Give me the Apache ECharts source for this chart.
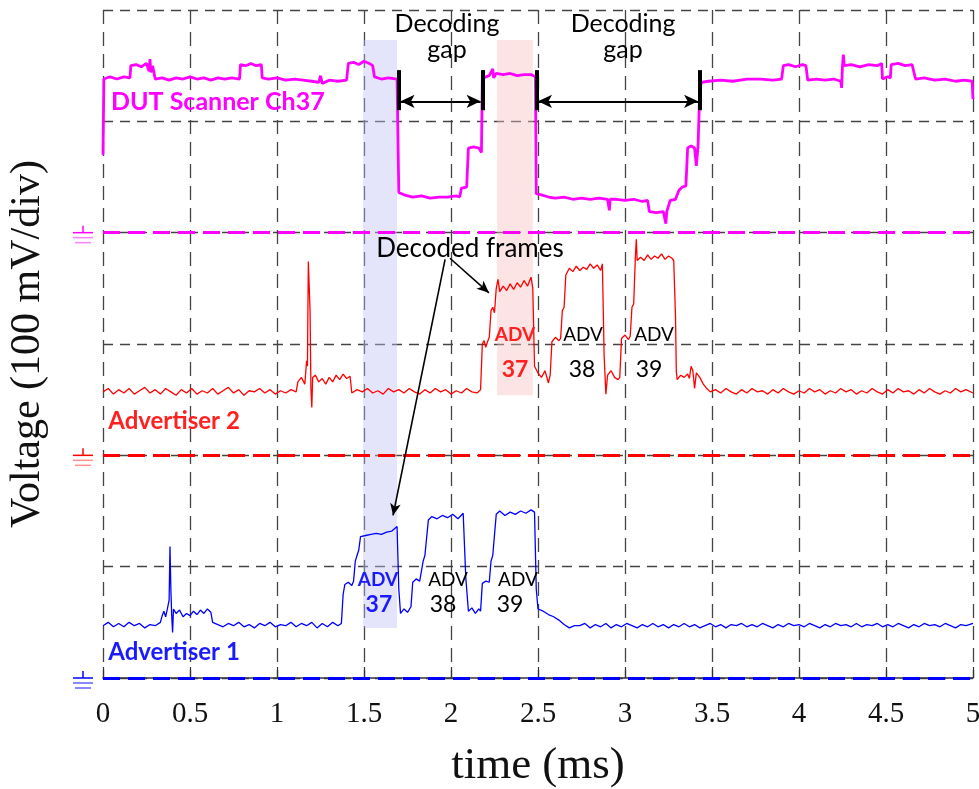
<!DOCTYPE html>
<html>
<head>
    <meta charset="utf-8">
    <title>Decoding gap</title>
    <script src="https://cdn.jsdelivr.net/npm/echarts@6.0.0/dist/echarts.min.js"></script>
    <style>
        body { margin: 0; background: #fff; }
        #grafico { width: 979px; height: 789px; }
    </style>
</head>
<body>
    <div id="grafico"></div>

    <script>
        // tiempo (ms), voltaje en divisiones sobre la tierra de cada canal
        const dutTrace = [
            [0,0.70],[0.005,1.38],[0.04,1.40],[0.08,1.38],[0.12,1.40],[0.155,1.39],
            [0.16,1.50],[0.19,1.51],[0.22,1.49],[0.25,1.52],[0.265,1.45],[0.27,1.56],[0.275,1.44],[0.285,1.50],[0.295,1.49],
            [0.30,1.38],[0.34,1.39],[0.38,1.37],[0.42,1.39],[0.46,1.38],[0.50,1.40],[0.54,1.38],[0.58,1.39],[0.62,1.37],[0.66,1.39],[0.70,1.38],[0.74,1.39],[0.785,1.38],
            [0.79,1.51],[0.82,1.50],[0.85,1.52],[0.88,1.50],[0.91,1.51],
            [0.915,1.39],[0.95,1.38],[1.0,1.39],[1.05,1.37],[1.10,1.38],[1.15,1.37],[1.20,1.36],[1.24,1.35],[1.25,1.41],[1.26,1.34],[1.30,1.37],[1.35,1.36],[1.40,1.37],
            [1.41,1.52],[1.44,1.53],[1.47,1.51],[1.50,1.54],[1.53,1.52],[1.55,1.50],
            [1.56,1.40],[1.60,1.38],[1.64,1.39],[1.69,1.38],
            [1.70,0.36],[1.73,0.34],[1.78,0.32],[1.83,0.33],[1.88,0.31],[1.93,0.32],[1.98,0.32],[2.03,0.33],[2.05,0.32],
            [2.06,0.40],[2.09,0.41],
            [2.10,0.76],[2.13,0.77],[2.16,0.76],[2.175,0.72],
            [2.18,1.38],[2.20,1.40],[2.22,1.41],[2.24,1.47],[2.245,1.39],[2.26,1.43],[2.30,1.42],[2.34,1.43],[2.38,1.41],[2.42,1.42],[2.46,1.42],[2.485,1.40],
            [2.49,0.35],[2.52,0.34],[2.56,0.32],[2.60,0.31],[2.65,0.32],[2.70,0.30],[2.75,0.31],[2.80,0.30],[2.85,0.31],[2.90,0.30],[2.91,0.20],[2.915,0.30],[2.95,0.30],[3.0,0.29],[3.05,0.30],[3.10,0.28],[3.13,0.29],
            [3.14,0.19],[3.18,0.18],[3.22,0.19],[3.235,0.08],[3.24,0.19],
            [3.26,0.29],[3.29,0.30],[3.31,0.38],[3.33,0.41],[3.35,0.42],
            [3.36,0.76],[3.38,0.78],[3.40,0.76],[3.41,0.60],[3.42,0.78],
            [3.43,1.30],[3.44,1.35],[3.48,1.36],[3.55,1.37],[3.62,1.36],[3.70,1.38],[3.78,1.38],[3.85,1.37],[3.90,1.38],
            [3.91,1.50],[3.94,1.51],[3.98,1.49],[4.02,1.51],[4.04,1.50],
            [4.05,1.37],[4.10,1.38],[4.15,1.37],[4.20,1.38],[4.24,1.36],[4.245,1.30],
            [4.25,1.50],[4.255,1.60],[4.26,1.50],[4.30,1.51],[4.35,1.49],[4.40,1.51],[4.45,1.50],[4.475,1.52],
            [4.48,1.38],[4.51,1.40],[4.525,1.39],
            [4.53,1.51],[4.57,1.52],[4.61,1.50],[4.65,1.51],
            [4.67,1.38],[4.72,1.39],[4.78,1.37],[4.84,1.38],[4.90,1.36],[4.95,1.37],[4.995,1.36],[5.0,1.20]
        ];

        const adv2Trace = [
            [0,0.57],[0.03,0.60],[0.06,0.55],[0.09,0.59],[0.12,0.56],[0.15,0.60],[0.18,0.55],[0.21,0.58],[0.24,0.61],[0.27,0.56],[0.30,0.59],[0.33,0.55],[0.36,0.60],[0.39,0.57],[0.42,0.54],[0.45,0.59],[0.48,0.56],[0.51,0.60],[0.54,0.55],[0.57,0.58],[0.60,0.56],[0.63,0.60],[0.66,0.55],[0.69,0.58],[0.72,0.61],[0.75,0.56],[0.78,0.59],[0.81,0.54],[0.84,0.58],[0.87,0.57],[0.90,0.60],[0.93,0.56],[0.96,0.59],[0.99,0.55],[1.02,0.58],[1.05,0.56],[1.08,0.59],[1.11,0.57],
            [1.12,0.66],[1.14,0.70],[1.16,0.64],[1.17,0.85],[1.175,0.80],[1.18,1.74],[1.19,1.30],[1.195,0.60],[1.20,0.43],[1.205,0.70],[1.22,0.72],[1.24,0.66],[1.26,0.69],[1.28,0.64],[1.30,0.70],[1.32,0.66],[1.34,0.72],[1.36,0.68],[1.38,0.73],[1.40,0.69],[1.42,0.71],
            [1.43,0.56],[1.46,0.59],[1.49,0.57],[1.52,0.60],[1.55,0.56],[1.58,0.58],[1.61,0.55],[1.64,0.60],[1.67,0.57],[1.70,0.59],[1.73,0.56],[1.76,0.60],[1.79,0.57],[1.82,0.55],[1.85,0.59],[1.88,0.56],[1.91,0.60],[1.94,0.57],[1.97,0.59],[2.00,0.55],[2.03,0.58],[2.06,0.56],[2.09,0.60],[2.12,0.57],[2.15,0.56],[2.17,0.59],
            [2.18,1.00],[2.19,1.03],[2.20,0.97],[2.21,1.02],[2.22,1.06],
            [2.23,1.30],[2.24,1.33],[2.25,1.28],
            [2.26,1.50],[2.27,1.58],[2.28,1.47],[2.30,1.52],[2.32,1.48],[2.34,1.54],[2.36,1.49],[2.38,1.55],[2.40,1.51],[2.42,1.57],[2.44,1.52],[2.46,1.60],[2.47,1.50],
            [2.48,0.80],[2.50,0.74],[2.52,0.70],[2.54,0.76],[2.56,0.65],[2.57,0.72],
            [2.58,1.02],[2.60,1.06],[2.62,1.03],[2.63,1.05],
            [2.64,1.30],[2.65,1.33],
            [2.66,1.62],[2.68,1.68],[2.70,1.65],[2.72,1.70],[2.74,1.66],[2.76,1.69],[2.78,1.67],[2.80,1.72],[2.82,1.68],[2.84,1.71],[2.86,1.66],[2.87,1.72],
            [2.88,0.90],[2.89,0.55],[2.90,0.72],[2.92,0.76],[2.94,0.70],[2.96,0.68],[2.97,0.70],
            [2.98,1.05],[3.00,1.08],[3.02,1.04],[3.03,1.07],
            [3.04,1.33],[3.05,1.36],
            [3.06,1.80],[3.065,1.94],[3.07,1.75],[3.09,1.78],[3.11,1.75],[3.13,1.80],[3.15,1.76],[3.17,1.79],[3.19,1.77],[3.21,1.81],[3.23,1.76],[3.25,1.79],[3.27,1.77],[3.28,1.75],
            [3.29,1.26],[3.295,0.75],[3.30,0.68],[3.32,0.72],[3.34,0.70],[3.36,0.73],[3.37,0.69],[3.38,0.80],[3.39,0.76],[3.40,0.60],[3.41,0.74],[3.43,0.70],[3.45,0.64],[3.47,0.60],[3.49,0.57],
            [3.52,0.59],[3.55,0.56],[3.58,0.60],[3.61,0.57],[3.64,0.55],[3.67,0.59],[3.70,0.56],[3.73,0.60],[3.76,0.57],[3.79,0.58],[3.82,0.55],[3.85,0.59],[3.88,0.56],[3.91,0.60],[3.94,0.57],[3.97,0.55],[4.00,0.58],[4.03,0.56],[4.06,0.60],[4.09,0.57],[4.12,0.59],[4.15,0.55],[4.18,0.58],[4.21,0.56],[4.24,0.60],[4.27,0.57],[4.30,0.59],[4.33,0.55],[4.36,0.58],[4.39,0.56],[4.42,0.60],[4.45,0.57],[4.48,0.55],[4.51,0.59],[4.54,0.56],[4.57,0.60],[4.60,0.57],[4.63,0.58],[4.66,0.55],[4.69,0.59],[4.72,0.56],[4.75,0.60],[4.78,0.57],[4.81,0.55],[4.84,0.58],[4.87,0.56],[4.90,0.60],[4.93,0.57],[4.96,0.59],[5.00,0.56]
        ];

        const adv1Trace = [
            [0,0.47],[0.03,0.50],[0.06,0.46],[0.09,0.49],[0.12,0.46],[0.15,0.50],[0.18,0.47],[0.21,0.49],[0.24,0.45],[0.27,0.48],[0.30,0.47],[0.33,0.50],
            [0.34,0.56],[0.35,0.60],[0.36,0.55],[0.37,0.62],[0.38,0.70],[0.385,1.18],[0.39,0.80],[0.395,0.56],[0.40,0.41],[0.405,0.62],[0.42,0.58],[0.44,0.61],[0.46,0.55],[0.48,0.58],[0.50,0.56],[0.52,0.60],[0.54,0.57],[0.56,0.61],[0.58,0.58],[0.60,0.62],[0.62,0.59],
            [0.63,0.50],[0.66,0.48],[0.69,0.46],[0.72,0.49],[0.75,0.47],[0.78,0.50],[0.81,0.46],[0.84,0.48],[0.87,0.45],[0.90,0.49],[0.93,0.47],[0.96,0.50],[0.99,0.46],[1.02,0.48],[1.05,0.47],[1.08,0.50],[1.11,0.46],[1.14,0.49],[1.17,0.47],[1.20,0.50],[1.23,0.45],[1.26,0.49],[1.29,0.46],[1.32,0.50],[1.35,0.47],[1.37,0.49],
            [1.38,0.75],[1.39,0.84],[1.41,0.86],[1.43,0.83],[1.44,0.87],
            [1.45,1.05],[1.46,1.10],[1.47,1.15],
            [1.48,1.27],[1.51,1.28],[1.54,1.29],[1.57,1.30],[1.60,1.29],[1.63,1.31],[1.66,1.32],[1.69,1.36],
            [1.70,0.80],[1.71,0.58],[1.73,0.62],[1.75,0.59],[1.77,0.64],
            [1.78,0.86],[1.80,0.89],[1.82,0.87],[1.84,1.05],[1.85,1.10],
            [1.87,1.42],[1.89,1.45],[1.92,1.43],[1.95,1.46],[1.98,1.44],[2.01,1.47],[2.04,1.43],[2.07,1.48],
            [2.085,0.90],[2.10,0.60],[2.12,0.63],[2.14,0.58],[2.16,0.62],[2.17,0.60],
            [2.18,0.85],[2.20,0.87],[2.22,0.86],[2.23,1.05],[2.24,1.10],
            [2.26,1.47],[2.28,1.50],[2.31,1.46],[2.34,1.49],[2.37,1.47],[2.40,1.50],[2.43,1.48],[2.46,1.51],[2.48,1.49],
            [2.49,0.80],[2.50,0.62],[2.53,0.60],[2.56,0.57],[2.59,0.55],[2.62,0.52],[2.65,0.48],[2.68,0.45],[2.71,0.47],
            [2.74,0.47],[2.77,0.49],[2.80,0.45],[2.83,0.48],[2.86,0.46],[2.89,0.49],[2.92,0.45],[2.95,0.48],[2.98,0.46],[3.01,0.49],[3.04,0.47],[3.07,0.45],[3.10,0.48],[3.13,0.46],[3.16,0.49],[3.19,0.46],[3.22,0.48],[3.25,0.45],[3.28,0.48],[3.31,0.46],[3.34,0.49],[3.37,0.46],[3.40,0.48],[3.43,0.45],[3.46,0.47],[3.49,0.49],[3.52,0.46],[3.55,0.48],[3.58,0.45],[3.61,0.48],[3.64,0.47],[3.67,0.49],[3.70,0.46],[3.73,0.48],[3.76,0.46],[3.79,0.49],[3.82,0.47],[3.85,0.45],[3.88,0.48],[3.91,0.46],[3.94,0.49],[3.97,0.47],[4.00,0.48],[4.03,0.46],[4.06,0.49],[4.09,0.47],[4.12,0.45],[4.15,0.48],[4.18,0.46],[4.21,0.49],[4.24,0.47],[4.27,0.48],[4.30,0.46],[4.33,0.49],[4.36,0.46],[4.39,0.48],[4.42,0.47],[4.45,0.49],[4.48,0.46],[4.51,0.48],[4.54,0.46],[4.57,0.49],[4.60,0.47],[4.63,0.45],[4.66,0.48],[4.69,0.46],[4.72,0.49],[4.75,0.47],[4.78,0.48],[4.81,0.46],[4.84,0.49],[4.87,0.47],[4.90,0.45],[4.93,0.48],[4.96,0.47],[5.00,0.49]
        ];

        // nivel de tierra de cada canal (divisiones)
        const groundLevels = { dut: 4, adv2: 2, adv1: 0 };

        // ventanas resaltadas [inicio, fin] en ms
        const adv1Window = [1.495, 1.69];
        const adv2Window = [2.265, 2.47];

        // bordes de los huecos de decodificacion (ms)
        const gapEdges = [1.70, 2.18, 2.49, 3.43];

        const colores = { dut: '#ff00ff', adv2: '#ff0000', adv1: '#0000ff' };
        const serif = '"Liberation Serif", "DejaVu Serif", serif';
        const sans = 'Lato, "Open Sans", sans-serif';

        const grafico = echarts.init(document.getElementById('grafico'));

        function desplazar(trace, nivel) {
            return trace.map(p => [p[0], p[1] + nivel]);
        }

        function tierra(nivel, color) {
            return {
                silent: true,
                symbol: 'none',
                label: { show: false },
                lineStyle: { color: color, width: 3, type: [17, 8] },
                data: [{ yAxis: nivel }]
            };
        }

        const gapBars = gapEdges.map(t => [
            { coord: [t, 5.10] }, { coord: [t, 5.46] }
        ]);
        const gapArrows = [
            [{ coord: [gapEdges[0] + 0.01, 5.18] }, { coord: [gapEdges[1] - 0.01, 5.18] }],
            [{ coord: [gapEdges[2] + 0.01, 5.18] }, { coord: [gapEdges[3] - 0.01, 5.18] }]
        ];
        const frameArrows = [
            [{ coord: [1.994, 3.77] }, { coord: [2.218, 3.46] }],
            [{ coord: [1.966, 3.76] }, { coord: [1.667, 1.46] }]
        ];

        const opciones = {
            animation: false,
            backgroundColor: '#fff',
            grid: { left: 103, right: 6, top: 10, bottom: 111, containLabel: false, outerBoundsMode: 'none' },
            xAxis: {
                type: 'value', min: 0, max: 5, interval: 0.5,
                name: 'time (ms)', nameLocation: 'middle', nameGap: 66,
                nameTextStyle: { fontFamily: serif, fontSize: 45, color: '#111' },
                axisLine: { show: true, lineStyle: { color: '#333', width: 1.5 } },
                axisTick: { show: true, inside: true, length: 11, lineStyle: { color: '#333', width: 1.2 } },
                axisLabel: { fontFamily: serif, fontSize: 29, color: '#111', margin: 22 },
                splitLine: { show: true, lineStyle: { color: '#444', width: 1.3, type: [14, 8] } }
            },
            yAxis: {
                type: 'value', min: 0, max: 6, interval: 1,
                name: 'Voltage (100 mV/div)', nameLocation: 'middle', nameGap: 54,
                nameTextStyle: { fontFamily: serif, fontSize: 42, color: '#111' },
                axisLine: { show: false },
                axisTick: { show: false },
                axisLabel: { show: false },
                splitLine: { show: true, lineStyle: { color: '#444', width: 1.3, type: [10, 7] } }
            },
            series: [
                {
                    type: 'line', data: [], z: 1, silent: true,
                    markArea: {
                        silent: true,
                        data: [
                            [{ coord: [adv1Window[0], 0.45], itemStyle: { color: 'rgba(190,190,245,0.42)' } }, { coord: [adv1Window[1], 5.73] }],
                            [{ coord: [adv2Window[0], 2.54], itemStyle: { color: 'rgba(250,190,190,0.42)' } }, { coord: [adv2Window[1], 5.73] }]
                        ]
                    }
                },
                {
                    name: 'DUT Scanner Ch37', type: 'line', showSymbol: false, z: 3,
                    data: desplazar(dutTrace, groundLevels.dut),
                    lineStyle: { color: colores.dut, width: 2.8 },
                    markLine: tierra(groundLevels.dut, colores.dut)
                },
                {
                    name: 'Advertiser 2', type: 'line', showSymbol: false, z: 3,
                    data: desplazar(adv2Trace, groundLevels.adv2),
                    lineStyle: { color: colores.adv2, width: 1.3 },
                    markLine: tierra(groundLevels.adv2, colores.adv2)
                },
                {
                    name: 'Advertiser 1', type: 'line', showSymbol: false, z: 3,
                    data: desplazar(adv1Trace, groundLevels.adv1),
                    lineStyle: { color: colores.adv1, width: 1.3 },
                    markLine: tierra(groundLevels.adv1, colores.adv1)
                },
                {
                    type: 'line', data: [], z: 5, silent: true,
                    markLine: {
                        silent: true, symbol: 'none', label: { show: false },
                        lineStyle: { color: '#000', width: 4, type: 'solid' },
                        data: gapBars
                    }
                },
                {
                    type: 'line', data: [], z: 5, silent: true,
                    markLine: {
                        silent: true, symbol: ['arrow', 'arrow'], symbolSize: [10, 14], label: { show: false },
                        lineStyle: { color: '#000', width: 2.2, type: 'solid' },
                        data: gapArrows
                    }
                },
                {
                    type: 'line', data: [], z: 5, silent: true,
                    markLine: {
                        silent: true, symbol: ['none', 'arrow'], symbolSize: [8, 12], label: { show: false },
                        lineStyle: { color: '#000', width: 1.6, type: 'solid' },
                        data: frameArrows
                    }
                }
            ]
        };

        grafico.setOption(opciones);

        // Textos y simbolos de tierra en coordenadas de datos
        const textos = [
            { t: 1.977, v: 5.76, text: 'Decoding\ngap', size: 25, color: '#000', align: 'center' },
            { t: 2.989, v: 5.76, text: 'Decoding\ngap', size: 25, color: '#000', align: 'center' },
            { t: 2.109, v: 3.86, text: 'Decoded frames', size: 26, color: '#000', align: 'center' },
            { t: 0.046, v: 5.17, text: 'DUT Scanner Ch37', size: 25, color: colores.dut, align: 'left', bold: true },
            { t: 0.030, v: 2.31, text: 'Advertiser 2', size: 24, color: '#ff2020', align: 'left', bold: true },
            { t: 0.030, v: 0.23, text: 'Advertiser 1', size: 24, color: '#1a1aff', align: 'left', bold: true },
            { t: 2.368, v: 3.08, text: 'ADV', size: 19, color: '#ff2020', align: 'center', bold: true },
            { t: 2.368, v: 2.77, text: '37', size: 23, color: '#ff2020', align: 'center', bold: true },
            { t: 2.759, v: 3.08, text: 'ADV', size: 19, color: '#000', align: 'center' },
            { t: 2.753, v: 2.77, text: '38', size: 23, color: '#000', align: 'center' },
            { t: 3.167, v: 3.08, text: 'ADV', size: 19, color: '#000', align: 'center' },
            { t: 3.138, v: 2.77, text: '39', size: 23, color: '#000', align: 'center' },
            { t: 1.580, v: 0.88, text: 'ADV', size: 19, color: '#1a1aff', align: 'center', bold: true },
            { t: 1.586, v: 0.66, text: '37', size: 23, color: '#1a1aff', align: 'center', bold: true },
            { t: 1.983, v: 0.88, text: 'ADV', size: 19, color: '#000', align: 'center' },
            { t: 1.954, v: 0.66, text: '38', size: 23, color: '#000', align: 'center' },
            { t: 2.385, v: 0.88, text: 'ADV', size: 19, color: '#000', align: 'center' },
            { t: 2.339, v: 0.66, text: '39', size: 23, color: '#000', align: 'center' }
        ];

        const graficos = [];
        textos.forEach(function (d) {
            const p = grafico.convertToPixel({ gridIndex: 0 }, [d.t, d.v]);
            graficos.push({
                type: 'text', x: p[0], y: p[1], z: 10, silent: true,
                style: {
                    text: d.text, fill: d.color, align: d.align, verticalAlign: 'middle',
                    fontFamily: sans, fontSize: d.size, fontWeight: d.bold ? 'bold' : 'normal',
                    lineHeight: 26
                }
            });
        });

        const tierras = [
            { nivel: groundLevels.dut, fuerte: colores.dut, suave: '#ff80ff' },
            { nivel: groundLevels.adv2, fuerte: colores.adv2, suave: '#ff9090' },
            { nivel: groundLevels.adv1, fuerte: colores.adv1, suave: '#6060ff' }
        ];
        tierras.forEach(function (g) {
            const p = grafico.convertToPixel({ gridIndex: 0 }, [0, g.nivel]);
            const x0 = p[0] - 30, y0 = p[1];
            graficos.push(
                { type: 'line', silent: true, shape: { x1: x0 + 10, y1: y0 - 7, x2: x0 + 10, y2: y0 }, style: { stroke: g.fuerte, lineWidth: 1.5 } },
                { type: 'line', silent: true, shape: { x1: x0, y1: y0, x2: x0 + 20, y2: y0 }, style: { stroke: g.fuerte, lineWidth: 1.5 } },
                { type: 'line', silent: true, shape: { x1: x0, y1: y0 + 5, x2: x0 + 20, y2: y0 + 5 }, style: { stroke: g.suave, lineWidth: 1.5 } },
                { type: 'line', silent: true, shape: { x1: x0 + 2, y1: y0 + 10, x2: x0 + 18, y2: y0 + 10 }, style: { stroke: g.suave, lineWidth: 1.5 } }
            );
        });

        grafico.setOption({ graphic: graficos });
    </script>
</body>
</html>
